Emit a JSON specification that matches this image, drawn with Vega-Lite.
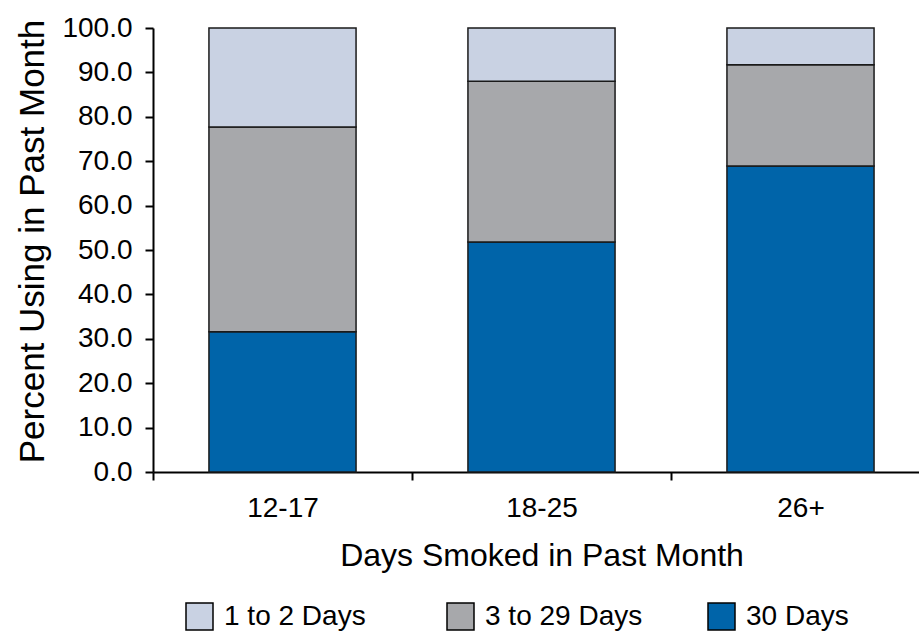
{
  "$schema": "https://vega.github.io/schema/vega-lite/v6.json",
  "width": 777,
  "height": 444,
  "autosize": {"type": "none"},
  "padding": {"left": 153, "top": 28, "right": -11, "bottom": 159},
  "background": "white",
  "config": {"view": {"stroke": null}, "font": "Liberation Sans"},
  "data": {
    "values": [
      {"Age": "12-17", "Days": "30 Days", "Percent": 31.6},
      {"Age": "12-17", "Days": "3 to 29 Days", "Percent": 46.1},
      {"Age": "12-17", "Days": "1 to 2 Days", "Percent": 22.3},
      {"Age": "18-25", "Days": "30 Days", "Percent": 51.8},
      {"Age": "18-25", "Days": "3 to 29 Days", "Percent": 36.2},
      {"Age": "18-25", "Days": "1 to 2 Days", "Percent": 12.0},
      {"Age": "26+", "Days": "30 Days", "Percent": 68.9},
      {"Age": "26+", "Days": "3 to 29 Days", "Percent": 22.8},
      {"Age": "26+", "Days": "1 to 2 Days", "Percent": 8.3}
    ]
  },
  "mark": {"type": "bar", "stroke": "#1a1a1a", "strokeWidth": 1.5, "width": {"band": 0.568}},
  "encoding": {
    "x": {
      "field": "Age",
      "type": "nominal",
      "sort": ["12-17", "18-25", "26+"],
      "scale": {"paddingInner": 0, "paddingOuter": 0},
      "axis": {
        "title": "Days Smoked in Past Month",
        "labelAngle": 0,
        "tickBand": "extent",
        "tickSize": 8,
        "tickWidth": 2,
        "tickColor": "black",
        "domainColor": "black",
        "domainWidth": 2,
        "labelFontSize": 28,
        "labelColor": "black",
        "labelPadding": 14,
        "titleFontSize": 32,
        "titleFontWeight": "normal",
        "titleColor": "black",
        "titlePadding": 18
      }
    },
    "y": {
      "field": "Percent",
      "type": "quantitative",
      "stack": "zero",
      "scale": {"domain": [0, 100]},
      "axis": {
        "title": "Percent Using in Past Month",
        "values": [0, 10, 20, 30, 40, 50, 60, 70, 80, 90, 100],
        "format": ".1f",
        "grid": false,
        "tickSize": 8,
        "tickWidth": 2,
        "tickColor": "black",
        "domainColor": "black",
        "domainWidth": 2,
        "labelFontSize": 28,
        "labelColor": "black",
        "labelPadding": 13,
        "titleFontSize": 35,
        "titleFontWeight": "normal",
        "titleColor": "black",
        "titlePadding": 11,
        "titleY": 213
      }
    },
    "color": {
      "field": "Days",
      "type": "nominal",
      "scale": {
        "domain": ["1 to 2 Days", "3 to 29 Days", "30 Days"],
        "range": ["#C9D2E3", "#A7A8AB", "#0064A9"]
      },
      "legend": {
        "orient": "none",
        "legendX": 32,
        "legendY": 574,
        "direction": "horizontal",
        "columns": 3,
        "title": null,
        "symbolType": "square",
        "symbolSize": 729,
        "symbolStrokeColor": "black",
        "symbolStrokeWidth": 1.5,
        "labelFontSize": 28,
        "labelColor": "black",
        "labelOffset": 10,
        "columnPadding": 62,
        "gridAlign": "all",
        "padding": 0
      }
    },
    "order": {"field": "Days", "sort": "descending"}
  }
}
